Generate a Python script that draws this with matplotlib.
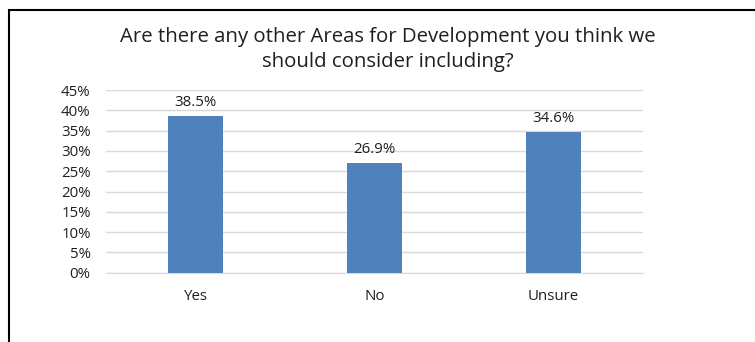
import matplotlib.pyplot as plt
from matplotlib.patches import Rectangle
from matplotlib.ticker import FuncFormatter

categories = ["Yes", "No", "Unsure"]
shares = [38.5, 26.9, 34.6]
y_ticks = [0, 5, 10, 15, 20, 25, 30, 35, 40, 45]

title = "Are there any other Areas for Development you think we\nshould consider including?"

plt.rcParams['font.family'] = ['Open Sans', 'DejaVu Sans']

fig = plt.figure(figsize=(7.55, 3.42), dpi=100)
ax = fig.add_axes([0.1404, 0.2026, 0.7113, 0.5342])

x = range(len(categories))
bars = ax.bar(x, shares, width=0.31, color='#4f81bd', zorder=3)
for b, v in zip(bars, shares):
    ax.text(b.get_x() + b.get_width() / 2, v + 1.6, f"{v:.1f}%",
            ha='center', va='bottom', fontsize=10.8, color='#1f1f1f')

ax.set_xlim(-0.5, 2.5)
ax.set_ylim(0, 45)
ax.set_yticks(y_ticks)
ax.yaxis.set_major_formatter(FuncFormatter(lambda v, _: f"{v:.0f}%"))
ax.set_xticks(list(x))
ax.set_xticklabels(categories)
ax.grid(axis='y', color='#d9d9d9', linewidth=1, zorder=0)
for side in ['top', 'right', 'left']:
    ax.spines[side].set_visible(False)
ax.spines['bottom'].set_color('#d9d9d9')
ax.tick_params(axis='both', length=0, labelsize=10.8, colors='#1f1f1f')
ax.tick_params(axis='x', pad=12)
ax.tick_params(axis='y', pad=11)

fig.text(0.514, 0.855, title, ha='center', va='center', fontsize=14.7,
         color='#1f1f1f', linespacing=1.35)

# outer chart frame, running off the right and bottom edges
fig.patches.append(Rectangle((8.5 / 755, -0.1), 1.2, 1.1 - 10.5 / 342,
                             transform=fig.transFigure, fill=False,
                             edgecolor='black', linewidth=1.5))

fig.savefig('out.png', dpi=100)
